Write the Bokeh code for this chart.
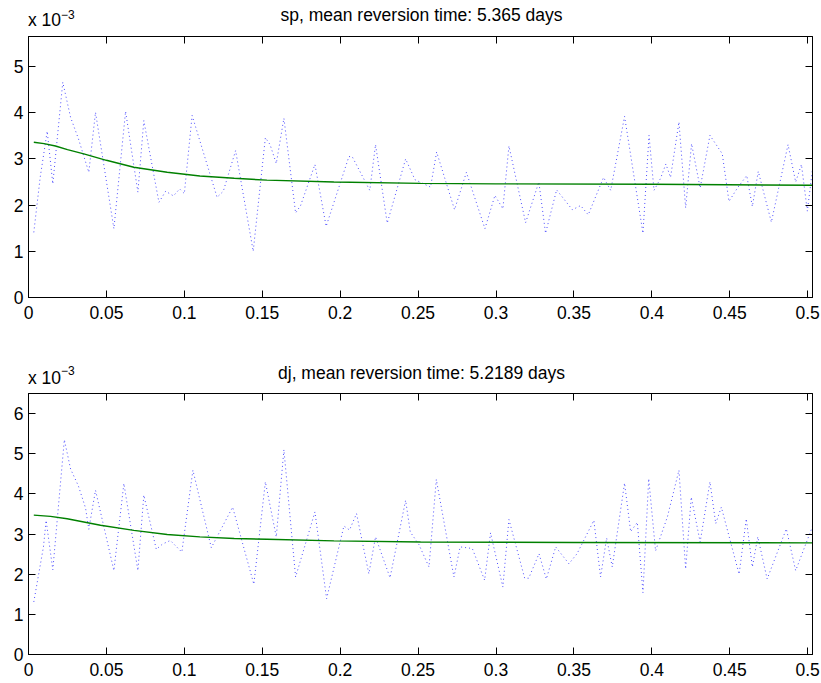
from bokeh.plotting import figure
from bokeh.models import Range1d, LinearAxis, FixedTicker, Div
from bokeh.layouts import column
from bokeh.embed import file_html
from bokeh.resources import INLINE

# ---------------- data (power values in units of 1e-3) ----------------
sp_freq = [0.0034, 0.0075, 0.0120, 0.0156, 0.0220, 0.0270, 0.0320, 0.0387, 0.0430, 0.0548,
           0.0623, 0.0702, 0.0740, 0.0837, 0.0880, 0.0930, 0.0970, 0.1000, 0.1050, 0.1210,
           0.1250, 0.1329, 0.1442, 0.1520, 0.1550, 0.1590, 0.1639, 0.1714, 0.1746, 0.1838,
           0.1910, 0.2056, 0.2077, 0.2190, 0.2227, 0.2302, 0.2420, 0.2480, 0.2580, 0.2619,
           0.2734, 0.2810, 0.2929, 0.2993, 0.3044, 0.3083, 0.3190, 0.3275, 0.3318, 0.3389,
           0.3490, 0.3543, 0.3592, 0.3690, 0.3736, 0.3825, 0.3943, 0.3982, 0.4014, 0.4056,
           0.4090, 0.4120, 0.4174, 0.4217, 0.4255, 0.4310, 0.4373, 0.4452, 0.4495, 0.4549,
           0.4609, 0.4645, 0.4683, 0.4767, 0.4874, 0.4923, 0.4960, 0.4998, 0.5030]
sp_power = [1.41, 2.60, 3.60, 2.46, 4.66, 3.90, 3.44, 2.71, 4.01, 1.49,
            4.03, 2.28, 3.83, 2.06, 2.30, 2.20, 2.35, 2.25, 3.94, 2.17,
            2.30, 3.18, 1.00, 3.46, 3.31, 2.90, 3.88, 1.83, 1.99, 2.88,
            1.54, 3.05, 3.05, 2.32, 3.31, 1.61, 3.00, 2.55, 2.39, 3.15,
            1.90, 2.71, 1.49, 2.21, 1.92, 3.28, 1.62, 2.50, 1.39, 2.33,
            1.90, 1.99, 1.79, 2.60, 2.32, 3.92, 1.39, 3.51, 2.32, 2.58,
            2.89, 2.60, 3.80, 1.94, 3.33, 2.37, 3.51, 3.11, 2.08, 2.37,
            2.64, 1.97, 2.73, 1.63, 3.31, 2.50, 2.88, 1.87, 2.75]
sp_fit_freq = [0.0034, 0.010, 0.0173, 0.025, 0.0355, 0.050, 0.0676, 0.089, 0.110, 0.132,
               0.153, 0.196, 0.2516, 0.30, 0.40, 0.5031]
sp_fit_power = [3.36, 3.33, 3.28, 3.20, 3.11, 2.97, 2.82, 2.71, 2.63, 2.58,
                2.54, 2.50, 2.47, 2.46, 2.45, 2.43]

dj_freq = [0.0034, 0.0096, 0.0113, 0.0156, 0.0230, 0.0270, 0.0320, 0.0366, 0.0387, 0.0430,
           0.0548, 0.0612, 0.0702, 0.0740, 0.0820, 0.0860, 0.0910, 0.0984, 0.1055, 0.1173,
           0.1310, 0.1446, 0.1520, 0.1590, 0.1639, 0.1714, 0.1838, 0.1913, 0.2024, 0.2060,
           0.2105, 0.2184, 0.2227, 0.2320, 0.2420, 0.2450, 0.2505, 0.2570, 0.2617, 0.2730,
           0.2770, 0.2848, 0.2927, 0.2965, 0.3044, 0.3083, 0.3184, 0.3210, 0.3276, 0.3323,
           0.3383, 0.3468, 0.3520, 0.3628, 0.3671, 0.3710, 0.3746, 0.3825, 0.3864, 0.3907,
           0.3943, 0.3980, 0.4024, 0.4100, 0.4174, 0.4217, 0.4253, 0.4310, 0.4373, 0.4410,
           0.4446, 0.4560, 0.4606, 0.4645, 0.4680, 0.4740, 0.4863, 0.4923, 0.5034]
dj_power = [1.31, 2.68, 3.34, 2.11, 5.35, 4.62, 4.20, 3.65, 3.12, 4.09,
            2.09, 4.26, 2.09, 3.97, 2.62, 2.75, 2.84, 2.55, 4.59, 2.66,
            3.67, 1.75, 4.30, 2.93, 5.10, 1.93, 3.55, 1.39, 3.20, 3.10,
            3.51, 2.01, 2.93, 1.91, 3.84, 3.05, 2.74, 2.18, 4.36, 1.93,
            2.68, 2.64, 1.85, 3.03, 1.68, 3.36, 1.90, 1.90, 2.51, 1.88,
            2.68, 2.26, 2.51, 3.34, 1.93, 2.90, 2.18, 4.27, 3.06, 3.29,
            1.54, 4.38, 2.58, 3.43, 4.59, 2.13, 3.92, 2.80, 4.30, 3.26,
            3.67, 2.00, 3.38, 2.18, 2.93, 1.88, 3.13, 2.09, 3.22]
dj_fit_freq = [0.0034, 0.0141, 0.0248, 0.0462, 0.0676, 0.089, 0.110, 0.132, 0.153, 0.196,
               0.2516, 0.35, 0.5031]
dj_fit_power = [3.47, 3.44, 3.38, 3.22, 3.09, 2.99, 2.93, 2.89, 2.87, 2.83,
                2.80, 2.79, 2.78]

x_ticks = [0, 0.05, 0.1, 0.15, 0.2, 0.25, 0.3, 0.35, 0.4, 0.45, 0.5]
x_tick_labels = ["0", "0.05", "0.1", "0.15", "0.2", "0.25", "0.3", "0.35", "0.4", "0.45", "0.5"]
sp_y_ticks = [0, 1, 2, 3, 4, 5]
dj_y_ticks = [0, 1, 2, 3, 4, 5, 6]
sp_title = "sp, mean reversion time: 5.365 days"
dj_title = "dj, mean reversion time: 5.2189 days"
scale_base = "x 10"
scale_exp = "\u22123"

FONT = "Liberation Sans"
FSV = 17.5
FS = f"{FSV}px"
EXPV = 12
X_MAX = 0.5031
W = 821
B_LEFT = 28
B_RIGHT = 9


def style_axis(ax, ticks, labels=None, show=True, standoff=5):
    ax.ticker = FixedTicker(ticks=ticks)
    ax.major_tick_in = 7
    ax.major_tick_out = 0
    ax.minor_tick_in = 0
    ax.minor_tick_out = 0
    ax.axis_line_color = "black"
    ax.major_tick_line_color = "black"
    ax.major_label_text_font = FONT
    ax.major_label_standoff = standoff
    if show:
        ax.major_label_text_font_size = FS
        ax.major_label_text_color = "black"
        if labels is not None:
            ax.major_label_overrides = {t: l for t, l in zip(ticks, labels)}
    else:
        ax.major_label_text_font_size = "1px"
        ax.major_label_text_color = None
        ax.major_label_standoff = 0


def span(text, left, baseline, size, width=None, center=False):
    # absolutely positioned text; line-height = font size, so baseline sits at top + k*size
    k = (1 + 0.905 - 0.212) / 2
    top = baseline - k * size
    style = (f"position:absolute;left:{left}px;top:{top:.2f}px;font-size:{size}px;"
             f"line-height:{size}px;white-space:nowrap;")
    if width is not None:
        style += f"width:{width}px;"
    if center:
        style += "text-align:center;"
    return f'<span style="{style}">{text}</span>'


def header(height, title, title_base, base_y, exp_y):
    frame_w = W - B_LEFT - B_RIGHT
    html = (f'<div style="position:relative;width:{W}px;height:{height}px;overflow:visible;'
            f'font-family:\'{FONT}\';color:black;">'
            + span(title, B_LEFT + 1.5, title_base, FSV, width=frame_w, center=True)
            + span(scale_base, B_LEFT, base_y, FSV)
            + span(scale_exp, B_LEFT + 33, exp_y, EXPV)
            + '</div>')
    return Div(text=html, width=W, height=height, margin=(0, 0, 0, 0))


def panel(freq, power, fit_freq, fit_power, ymax, yticks, height, btop, bbottom):
    p = figure(width=W, height=height, x_range=Range1d(0, X_MAX), y_range=Range1d(0, ymax),
               output_backend="svg", toolbar_location=None,
               min_border_left=B_LEFT, min_border_right=B_RIGHT,
               min_border_top=btop, min_border_bottom=bbottom)
    p.xgrid.grid_line_color = None
    p.ygrid.grid_line_color = None
    p.outline_line_color = "black"
    p.background_fill_color = "white"
    p.border_fill_color = "white"

    style_axis(p.xaxis[0], x_ticks, x_tick_labels, standoff=8)
    style_axis(p.yaxis[0], yticks, [str(t) for t in yticks], standoff=5)
    top_ax = LinearAxis()
    style_axis(top_ax, x_ticks, show=False)
    p.add_layout(top_ax, "above")
    right_ax = LinearAxis()
    style_axis(right_ax, yticks, show=False)
    p.add_layout(right_ax, "right")

    p.line(freq, power, line_color="#0000ff", line_alpha=0.7, line_width=1, line_dash="1 3")
    p.line(fit_freq, fit_power, line_color="#008000", line_width=1.4)
    return p


head_top = header(30, sp_title, 22, 26.7, 19)
top = panel(sp_freq, sp_power, sp_fit_freq, sp_fit_power, 5.65, sp_y_ticks, 303, 6, 36)
head_bottom = header(54, dj_title, 47, 52, 42)
bottom = panel(dj_freq, dj_power, dj_fit_freq, dj_fit_power, 6.5, dj_y_ticks, 296, 6, 29)

layout = column(head_top, top, head_bottom, bottom, spacing=0)
open("out.html", "w").write(file_html(layout, INLINE))
